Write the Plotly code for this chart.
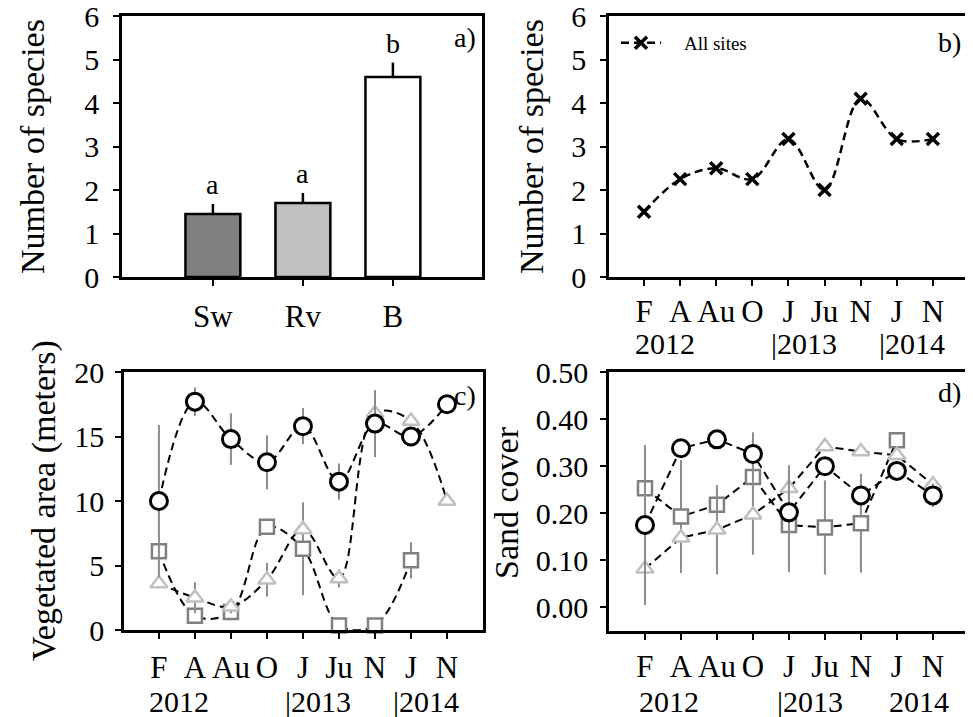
import plotly.graph_objects as go

# ---------------- data ----------------
# panel a
groups = ["Sw", "Rv", "B"]
species_mean = [1.45, 1.70, 4.60]
species_se = [0.23, 0.23, 0.33]
sig_letters = ["a", "a", "b"]

# shared month axis
months = ["F", "A", "Au", "O", "J", "Ju", "N", "J", "N"]
years_bc = ["2012", "|2013", "|2014"]
years_d = ["2012", "|2013", "2014"]

# panel b
species_all = [1.5, 2.25, 2.5, 2.25, 3.17, 2.0, 4.1, 3.17, 3.17]

# panel c
veg_circle = [10.0, 17.7, 14.8, 13.0, 15.8, 11.5, 16.0, 15.0, 17.5]
veg_circle_err = [5.9, 1.1, 2.0, 2.1, 1.4, 1.4, 2.6, 0.5, 0.0]
veg_square = [6.1, 1.1, 1.4, 8.0, 6.3, 0.35, 0.35, 5.4, None]
veg_square_err = [0, 0, 0, 0, 3.6, 0, 0, 1.4, 0]
veg_triangle = [3.6, 2.5, 1.8, 3.9, 7.8, 4.0, 16.8, 16.2, 10.0]
veg_triangle_err = [0, 1.2, 0.5, 1.3, 0, 0.7, 0, 0, 0]

# panel d
sand_circle = [0.175, 0.338, 0.357, 0.326, 0.202, 0.300, 0.238, 0.290, 0.238]
sand_circle_err = [0.17, 0, 0, 0.046, 0.10, 0, 0, 0, 0.025]
sand_square = [0.253, 0.193, 0.218, 0.277, 0.175, 0.170, 0.179, 0.355, None]
sand_square_err = [0, 0.12, 0, 0, 0.10, 0.10, 0.105, 0, 0]
sand_triangle = [0.082, 0.148, 0.165, 0.197, 0.253, 0.342, 0.331, 0.323, 0.261]
sand_triangle_err = [0, 0, 0.095, 0.085, 0, 0, 0, 0, 0]

# ---------------- figure ----------------
OFF = 8                      # page body margin
W, H = 973 - OFF, 717 - OFF  # figure size so the page fits the window
FONT = "Liberation Serif"
xi = list(range(len(months)))

def px(x):
    return (x - OFF) / W

def py(y):
    return (H - (y - OFF)) / H

fig = go.Figure()

# panel a: bars
fig.add_trace(go.Bar(
    x=groups, y=species_mean, xaxis="x", yaxis="y",
    marker=dict(color=["#808080", "#c0c0c0", "#ffffff"], line=dict(color="black", width=2.5)),
    width=0.61,
    error_y=dict(type="data", symmetric=False, array=species_se, arrayminus=[0] * len(groups),
                 color="black", thickness=2.5, width=0),
    showlegend=False,
))

# panel b
fig.add_trace(go.Scatter(
    x=xi, y=species_all, xaxis="x2", yaxis="y2", mode="lines+markers",
    name="    All sites",
    line=dict(color="black", width=2.5, dash="8px,5px", shape="spline", smoothing=1),
    marker=dict(symbol="x-thin", size=12, line=dict(color="black", width=3.5), color="black"),
    showlegend=True, cliponaxis=False,
))

SQ = "#808080"
TR = "#c0c0c0"
ERR = "#8c8c8c"

def series(y, err, ax, sym, col, size, lw, shape):
    return go.Scatter(
        x=xi, y=y, xaxis="x" + ax, yaxis="y" + ax, mode="lines+markers",
        line=dict(color="black", width=2, dash="8px,5px", shape=shape, smoothing=1),
        marker=dict(symbol=sym, size=size, color="white", line=dict(color=col, width=lw)),
        error_y=dict(type="data", array=err, color=ERR, thickness=2, width=0),
        showlegend=False, cliponaxis=False, connectgaps=False,
    )

fig.add_trace(series(veg_square, veg_square_err, "3", "square", SQ, 14, 2.5, "spline"))
fig.add_trace(series(veg_triangle, veg_triangle_err, "3", "triangle-up", TR, 15, 2.5, "spline"))
fig.add_trace(series(veg_circle, veg_circle_err, "3", "circle", "black", 17, 3, "spline"))

fig.add_trace(series(sand_square, sand_square_err, "4", "square", SQ, 14, 2.5, "linear"))
fig.add_trace(series(sand_triangle, sand_triangle_err, "4", "triangle-up", TR, 15, 2.5, "linear"))
fig.add_trace(series(sand_circle, sand_circle_err, "4", "circle", "black", 17, 3, "linear"))

axis_common = dict(
    showline=True, linecolor="black", linewidth=2.5, mirror=True,
    ticks="outside", ticklen=6, tickwidth=2, tickcolor="black",
    showgrid=False, zeroline=False, automargin=False, ticklabeloverflow="allow",
    tickfont=dict(family=FONT, size=30, color="black"),
    fixedrange=True,
)

def month_axis(standoff):
    return dict(axis_common, tickmode="array", tickvals=xi, ticktext=months,
                tickfont=dict(family=FONT, size=31, color="black"), ticklabelstandoff=standoff)

fig.update_layout(
    width=W, height=H,
    margin=dict(l=0, r=0, t=0, b=0, autoexpand=False),
    paper_bgcolor="white", plot_bgcolor="white",
    font=dict(family=FONT, color="black"),
    xaxis=dict(axis_common, domain=[px(122), px(482)], type="category", range=[-1.01, 2.99],
               tickfont=dict(family=FONT, size=31, color="black"), ticklabelstandoff=4, anchor="y"),
    yaxis=dict(axis_common, domain=[py(277), py(16)], range=[0, 6], dtick=1, anchor="x",
               ticklabelstandoff=8),
    xaxis2=dict(month_axis(-1), domain=[px(609), px(965)], range=[-0.97, 8.89], anchor="y2"),
    yaxis2=dict(axis_common, domain=[py(277), py(16)], range=[0, 6], dtick=1, anchor="x2",
                ticklabelstandoff=8),
    xaxis3=dict(month_axis(2), domain=[px(124), px(483)], range=[-0.97, 9.0], anchor="y3"),
    yaxis3=dict(axis_common, domain=[py(630), py(372)], range=[0, 20], dtick=5, anchor="x3",
                ticklabelstandoff=5),
    xaxis4=dict(month_axis(0), domain=[px(609), px(966)], range=[-1.0, 8.92], anchor="y4"),
    yaxis4=dict(axis_common, domain=[py(631), py(372)], range=[-0.05, 0.5], tickvals=[0, 0.1, 0.2, 0.3, 0.4, 0.5],
                tickformat=".2f", anchor="x4", ticklabelstandoff=6),
    legend=dict(x=px(616), y=py(24), xanchor="left", yanchor="top", bgcolor="rgba(0,0,0,0)",
                font=dict(family=FONT, size=19, color="black"), itemwidth=40),
    bargap=0.3,
)

ann = []
# significance letters
for g, m, s, t in zip(groups, species_mean, species_se, sig_letters):
    ann.append(dict(x=g, y=m + s, xref="x", yref="y", text=t, showarrow=False,
                    yanchor="bottom", yshift=2, font=dict(family=FONT, size=28, color="black")))

# axis titles
titles = [("Number of species", 32, 147), ("Number of species", 531, 147),
          ("Vegetated area (meters)", 44, 501), ("Sand cover", 506, 502)]
for t, x, y in titles:
    ann.append(dict(x=px(x), y=py(y), xref="paper", yref="paper", text=t, textangle=-90,
                    showarrow=False, xanchor="center", yanchor="middle",
                    font=dict(family=FONT, size=34, color="black")))

# panel letters
for t, x, y in [("a)", 478, 37), ("b)", 963, 42), ("c)", 478, 395), ("d)", 963, 392)]:
    ann.append(dict(x=px(x), y=py(y), xref="paper", yref="paper", text=t, showarrow=False,
                    xanchor="right", yanchor="middle", font=dict(family=FONT, size=28, color="black")))

# year labels
def years_ann(labels, xref, ypix, xs, anchors):
    out = []
    for t, x, a in zip(labels, xs, anchors):
        out.append(dict(x=x, y=py(ypix), xref=xref, yref="paper", text=t, showarrow=False,
                        xanchor=a, yanchor="middle", font=dict(family=FONT, size=30, color="black")))
    return out

ann += years_ann(years_bc, "x2", 343, [0.58, 3.45, 6.45], ["center", "left", "left"])
ann += years_ann(years_bc, "x3", 701, [0.56, 3.45, 6.45], ["center", "left", "left"])
ann += years_ann(years_d, "x4", 701, [0.67, 3.62, 7.6], ["center", "left", "center"])

fig.update_layout(annotations=ann)

fig.write_html("out.html")
